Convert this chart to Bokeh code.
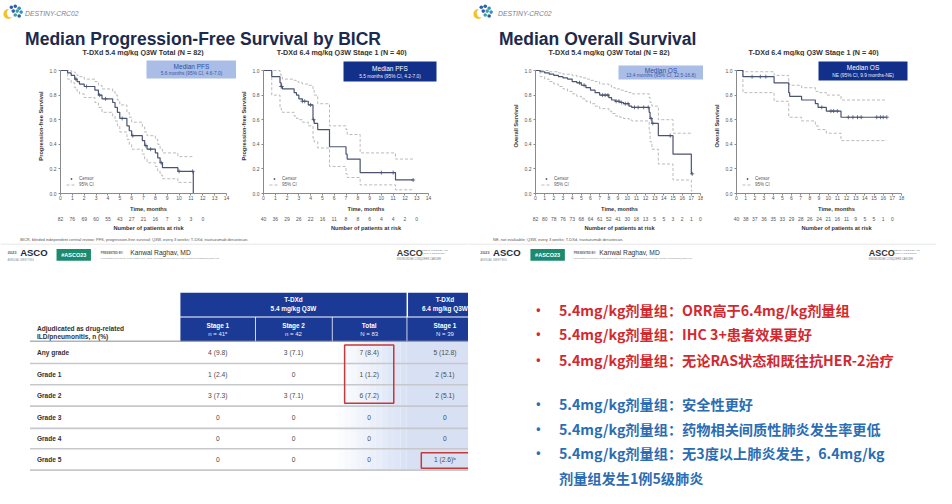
import numpy as np
from bokeh.plotting import figure
from bokeh.models import (Range1d, LinearAxis, FixedTicker, NumeralTickFormatter,
                          BoxAnnotation, Label, Legend, LegendItem)
from bokeh.layouts import row, column
from bokeh.embed import file_html
from bokeh.resources import INLINE
from bokeh.core.properties import value

# ------------------------------------------------------------------ data
PFS54_TIME = [0, 0.6, 0.9, 1.2, 1.4, 1.6, 2.0, 2.9, 3.2, 3.5, 4.4, 4.6, 4.8, 5.0, 5.6, 5.8, 6.0, 6.9, 7.1, 7.3, 8.0, 8.2, 8.4, 8.6, 9.9, 11.2]
PFS54_SURV = [1.0, 0.98, 0.96, 0.93, 0.91, 0.89, 0.87, 0.84, 0.80, 0.77, 0.74, 0.70, 0.66, 0.61, 0.55, 0.51, 0.47, 0.43, 0.39, 0.36, 0.33, 0.29, 0.25, 0.21, 0.18, 0.0]
PFS54_UPPER = [1.0, 1.0, 0.99, 0.98, 0.96, 0.95, 0.93, 0.91, 0.88, 0.85, 0.83, 0.80, 0.76, 0.72, 0.66, 0.62, 0.58, 0.54, 0.50, 0.47, 0.44, 0.40, 0.36, 0.33, 0.30, 0.30]
PFS54_LOWER = [1.0, 0.93, 0.90, 0.86, 0.83, 0.81, 0.78, 0.74, 0.70, 0.66, 0.63, 0.59, 0.55, 0.50, 0.44, 0.40, 0.36, 0.32, 0.28, 0.25, 0.22, 0.18, 0.15, 0.12, 0.09, 0.09]
PFS54_CENSOR = [1.3, 2.2, 3.3, 3.8, 5.2, 6.1, 7.2, 7.6, 8.5, 10.0, 11.15]
PFS54_RISK = [82, 76, 69, 60, 55, 43, 27, 21, 16, 7, 3, 3, 0]

PFS64_TIME = [0, 0.7, 1.4, 1.5, 1.6, 2.6, 2.8, 3.0, 3.3, 3.8, 4.2, 4.3, 4.6, 5.6, 7.0, 7.1, 8.2, 11.2, 12.7]
PFS64_SURV = [1.0, 0.95, 0.90, 0.87, 0.85, 0.82, 0.80, 0.77, 0.75, 0.72, 0.60, 0.57, 0.52, 0.38, 0.32, 0.28, 0.17, 0.11, 0.11]
PFS64_UPPER = [1.0, 1.0, 0.97, 0.95, 0.93, 0.92, 0.91, 0.90, 0.89, 0.88, 0.84, 0.80, 0.73, 0.55, 0.52, 0.48, 0.33, 0.28, 0.28]
PFS64_LOWER = [1.0, 0.80, 0.70, 0.68, 0.66, 0.63, 0.61, 0.60, 0.58, 0.55, 0.45, 0.42, 0.37, 0.22, 0.16, 0.13, 0.07, 0.03, 0.03]
PFS64_CENSOR = [1.5, 1.55, 3.3, 3.5, 4.0, 4.25, 10.0, 11.0, 12.7]
PFS64_RISK = [40, 36, 29, 26, 22, 16, 11, 8, 8, 6, 4, 4, 2, 0]

OS54_TIME = [0, 0.5, 1.0, 1.5, 2.0, 2.5, 3.0, 3.5, 4.0, 4.5, 5.0, 5.5, 6.0, 6.5, 7.0, 8.0, 8.3, 8.7, 9.2, 9.6, 10.2, 10.5, 12.4, 12.5, 12.7, 13.4, 15.0, 17.0, 17.1]
OS54_SURV = [1.0, 0.99, 0.98, 0.97, 0.96, 0.95, 0.94, 0.93, 0.91, 0.90, 0.88, 0.86, 0.84, 0.82, 0.80, 0.78, 0.76, 0.75, 0.74, 0.73, 0.71, 0.70, 0.66, 0.61, 0.57, 0.47, 0.32, 0.16, 0.16]
OS54_UPPER = [1.0, 1.0, 1.0, 0.99, 0.99, 0.98, 0.97, 0.97, 0.96, 0.95, 0.94, 0.93, 0.92, 0.91, 0.89, 0.88, 0.86, 0.85, 0.84, 0.83, 0.82, 0.81, 0.78, 0.74, 0.71, 0.60, 0.49, 0.49, 0.49]
OS54_LOWER = [1.0, 0.95, 0.93, 0.91, 0.89, 0.87, 0.85, 0.83, 0.81, 0.79, 0.77, 0.75, 0.73, 0.71, 0.69, 0.67, 0.65, 0.63, 0.62, 0.61, 0.60, 0.59, 0.50, 0.42, 0.36, 0.24, 0.11, 0.02, 0.02]
OS54_CENSOR = [4.8, 5.3, 7.3, 7.6, 7.9, 8.8, 9.1, 9.4, 9.8, 10.1, 10.8, 11.2, 11.8, 12.3, 12.6, 12.8, 14.7, 17.1]
OS54_RISK = [82, 80, 78, 76, 73, 68, 64, 61, 52, 41, 30, 18, 13, 5, 5, 3, 2, 1, 0]

OS64_TIME = [0, 0.7, 4.1, 5.7, 5.8, 7.1, 8.6, 8.9, 9.8, 11.4, 16.4]
OS64_SURV = [1.0, 0.95, 0.90, 0.82, 0.79, 0.76, 0.73, 0.70, 0.67, 0.62, 0.62]
OS64_UPPER = [1.0, 0.99, 0.96, 0.89, 0.88, 0.86, 0.83, 0.82, 0.80, 0.76, 0.76]
OS64_LOWER = [1.0, 0.82, 0.75, 0.63, 0.62, 0.59, 0.55, 0.52, 0.49, 0.43, 0.43]
OS64_CENSOR = [1.7, 2.6, 3.2, 9.3, 10.3, 10.6, 11.0, 12.2, 12.7, 13.2, 13.6, 15.3, 15.7, 16.0, 16.4]
OS64_RISK = [40, 38, 37, 36, 35, 33, 29, 28, 26, 24, 21, 16, 11, 9, 5, 5, 1, 0]

SLIDE_TITLES = ["Median Progression-Free Survival by BICR", "Median Overall Survival"]
PANEL_TITLES = ["T-DXd 5.4 mg/kg Q3W Total (N = 82)", "T-DXd 6.4 mg/kg Q3W Stage 1 (N = 40)",
                "T-DXd 5.4 mg/kg Q3W Total (N = 82)", "T-DXd 6.4 mg/kg Q3W Stage 1 (N = 40)"]
MEDIAN_TITLES = ["Median PFS", "Median PFS", "Median OS", "Median OS"]
MEDIAN_TEXTS = ["5.6 months (95% CI, 4.6-7.0)", "5.5 months (95% CI, 4.2-7.0)",
                "13.4 months (95% CI, 12.5-16.8)", "NE (95% CI, 9.9 months-NE)"]
Y_LABELS = ["Progression-free Survival", "Progression-free Survival", "Overall Survival", "Overall Survival"]
FOOTNOTES = ["BICR, blinded independent central review; PFS, progression-free survival; Q3W, every 3 weeks; T-DXd, trastuzumab deruxtecan.",
             "NE, not evaluable; Q3W, every 3 weeks; T-DXd, trastuzumab deruxtecan."]

TABLE_GROUPS = [("T-DXd", "5.4 mg/kg Q3W"), ("T-DXd", "6.4 mg/kg Q3W")]
TABLE_COLS = [("Stage 1", "n = 41ᵃ"), ("Stage 2", "n = 42"), ("Total", "N = 83"), ("Stage 1", "N = 39")]
TABLE_STUB = ("Adjudicated as drug-related", "ILD/pneumonitis, n (%)")
TABLE_ROWS = ["Any grade", "Grade 1", "Grade 2", "Grade 3", "Grade 4", "Grade 5"]
TABLE_VALUES = [
    ["4 (9.8)", "3 (7.1)", "7 (8.4)", "5 (12.8)"],
    ["1 (2.4)", "0", "1 (1.2)", "2 (5.1)"],
    ["3 (7.3)", "3 (7.1)", "6 (7.2)", "2 (5.1)"],
    ["0", "0", "0", "0"],
    ["0", "0", "0", "0"],
    ["0", "0", "0", "1 (2.6)ᵇ"],
]

BULLETS_RED = ["5.4mg/kg剂量组：ORR高于6.4mg/kg剂量组",
               "5.4mg/kg剂量组：IHC 3+患者效果更好",
               "5.4mg/kg剂量组：无论RAS状态和既往抗HER-2治疗"]
BULLETS_BLUE = ["5.4mg/kg剂量组：安全性更好",
                "5.4mg/kg剂量组：药物相关间质性肺炎发生率更低",
                "5.4mg/kg剂量组：无3度以上肺炎发生，6.4mg/kg"]
BULLET_CONT = "剂量组发生1例5级肺炎"

# ------------------------------------------------------------------ layout helpers
SANS = "Liberation Sans"
CJK = "Noto Sans CJK SC"
REF_W, REF_H = 952, 504
PAGE_W, PAGE_H = 936, 488
SX, SY = PAGE_W / REF_W, PAGE_H / REF_H
CURVE = "#4a5470"
CI_COL = "#a9a9a9"
NAVY = "#1a3a96"


def px(v):
    return int(round(v * SX))


def py(v):
    return int(round(v * SY))


def canvas(x0, x1, y0, y1):
    p = figure(width=px(x1) - px(x0), height=py(y1) - py(y0),
               x_range=Range1d(x0, x1), y_range=Range1d(y1, y0),
               x_axis_type=None, y_axis_type=None, toolbar_location=None,
               output_backend="svg", min_border=0, outline_line_color=None,
               background_fill_color="white", border_fill_color="white", title=None)
    return p


def text(p, x, y, s, size, color="#333333", style="normal", align="left",
         baseline="middle", font=SANS):
    p.text(x=[x], y=[y], text=[s], text_font=value(font),
           text_font_size=value(f"{size}px"), text_color=color,
           text_font_style=style, text_align=align, text_baseline=baseline)


def logo(p, ox):
    p.scatter(x=[ox + 8], y=[14], size=10, marker="circle", fill_color="#f2c233", line_color=None)
    p.scatter(x=[ox + 11], y=[13], size=9, marker="circle", fill_color="white", line_color=None)
    p.scatter(x=[ox + 11, ox + 15, ox + 19, ox + 13, ox + 17, ox + 21, ox + 15, ox + 19],
              y=[7, 6, 8, 11, 11, 12, 15, 16], size=3.6, marker="circle",
              fill_color=["#2d5ea8", "#2d5ea8", "#3b8fc0", "#2d5ea8", "#3aa0a0", "#3b8fc0", "#3aa0a0", "#2d5ea8"],
              line_color=None)


# ------------------------------------------------------------------ KM panels
Y_FIG_TOP, Y_FIG_BOT = 58, 241
Y_FRAME_TOP, Y_ONE, Y_ZERO = 60, 72, 199


def km_plot(x0, x1, frame_l, frame_r, xmax, t, s, up, lo, censor, risk, ylabel,
            box, box_fill, title_color, sub_color, mtitle, mtext):
    width = px(x1) - px(x0)
    height = py(Y_FIG_BOT) - py(Y_FIG_TOP)
    mbl = px(frame_l) - px(x0)
    mbt = py(Y_FRAME_TOP) - py(Y_FIG_TOP)
    mbb = py(Y_FIG_BOT) - py(Y_ZERO)
    axis_len = px(frame_r) - px(frame_l)
    x_end = xmax * (width - mbl) / axis_len
    y_end = (py(Y_ZERO) - py(Y_FRAME_TOP)) / (py(Y_ZERO) - py(Y_ONE))
    p = figure(width=width, height=height, x_range=Range1d(0, x_end), y_range=Range1d(0, y_end),
               toolbar_location=None, output_backend="svg", title=None,
               min_border_left=mbl, min_border_right=0, min_border_top=mbt, min_border_bottom=mbb,
               outline_line_color=None, background_fill_color="white", border_fill_color="white")
    p.grid.visible = False

    xa = p.xaxis[0]
    xa.ticker = FixedTicker(ticks=list(range(xmax + 1)))
    xa.bounds = (0, xmax)
    xa.axis_label = "Time, months"
    ya = p.yaxis[0]
    ya.ticker = FixedTicker(ticks=[0, 0.2, 0.4, 0.6, 0.8, 1.0])
    ya.formatter = NumeralTickFormatter(format="0.0")
    ya.bounds = (0, 1)
    ya.axis_label = ylabel
    for ax in (xa, ya):
        ax.axis_line_color = "#8a8a8a"
        ax.major_tick_line_color = "#8a8a8a"
        ax.minor_tick_line_color = None
        ax.major_tick_out = 2
        ax.major_tick_in = 0
        ax.minor_tick_out = 0
        ax.minor_tick_in = 0
        ax.major_label_text_font = SANS
        ax.major_label_text_font_size = "5px"
        ax.major_label_text_color = "#555555"
        ax.axis_label_text_font = SANS
        ax.axis_label_text_font_style = "bold"
        ax.axis_label_text_font_size = "5.7px"
        ax.axis_label_text_color = "#333333"
        ax.axis_label_standoff = 3
    xa.major_label_standoff = 0
    ya.major_label_standoff = 2

    risk_axis = LinearAxis(ticker=FixedTicker(ticks=list(range(len(risk)))),
                           major_label_overrides={i: str(v) for i, v in enumerate(risk)},
                           axis_line_color=None, major_tick_line_color=None,
                           minor_tick_line_color=None, major_tick_out=0, major_tick_in=0,
                           minor_tick_out=0, minor_tick_in=0, major_label_standoff=2,
                           major_label_text_font=SANS, major_label_text_font_size="5px",
                           major_label_text_color="#555555",
                           axis_label="Number of patients at risk", axis_label_standoff=1,
                           axis_label_text_font=SANS, axis_label_text_font_style="bold",
                           axis_label_text_font_size="5.7px", axis_label_text_color="#333333")
    p.add_layout(risk_axis, "below")

    r_up = p.step(x=t, y=up, mode="after", line_color=CI_COL, line_width=0.8, line_dash="3 2")
    p.step(x=t, y=lo, mode="after", line_color=CI_COL, line_width=0.8, line_dash="3 2")
    p.step(x=t, y=s, mode="after", line_color=CURVE, line_width=1.2)
    idx = np.searchsorted(np.array(t), np.array(censor), side="right") - 1
    cy = [s[i] for i in idx]
    r_c = p.scatter(x=censor, y=cy, marker="cross", size=4, line_color=CURVE, line_width=0.8)

    leg = Legend(items=[LegendItem(label="Censor", renderers=[r_c]),
                        LegendItem(label="95% CI", renderers=[r_up])],
                 location="bottom_left", label_text_font=SANS, label_text_font_size="4.5px",
                 label_text_color="#555555", glyph_width=10, glyph_height=5, label_height=5,
                 label_standoff=3, spacing=1, padding=1, margin=5,
                 background_fill_alpha=0, border_line_alpha=0)
    p.add_layout(leg)

    def dx(v):
        return (px(v) - px(frame_l)) / axis_len * xmax

    def dy(v):
        return (py(Y_ZERO) - py(v)) / (py(Y_ZERO) - py(Y_ONE))

    bx0, bx1, by0, by1 = box
    p.add_layout(BoxAnnotation(left=dx(bx0), right=dx(bx1), top=dy(by0), bottom=dy(by1),
                               fill_color=box_fill, fill_alpha=1.0, line_color=None))
    cx = (dx(bx0) + dx(bx1)) / 2
    p.add_layout(Label(x=cx, y=dy(by0 + 0.33 * (by1 - by0)), text=mtitle, text_align="center",
                       text_baseline="middle", text_font=SANS, text_font_size="6.5px",
                       text_color=title_color))
    p.add_layout(Label(x=cx, y=dy(by0 + 0.72 * (by1 - by0)), text=mtext, text_align="center",
                       text_baseline="middle", text_font=SANS, text_font_size="4.8px",
                       text_color=sub_color))
    return p


LIGHT_BOX, DARK_BOX = "#a9bde6", "#12308a"
km1 = km_plot(0, 240, 61, 230, 14, PFS54_TIME, PFS54_SURV, PFS54_UPPER, PFS54_LOWER, PFS54_CENSOR,
              PFS54_RISK, Y_LABELS[0], (148, 240, 62, 81), LIGHT_BOX, "#2f4f9e", "#3a57a0",
              MEDIAN_TITLES[0], MEDIAN_TEXTS[0])
km2 = km_plot(240, 476, 268, 435, 14, PFS64_TIME, PFS64_SURV, PFS64_UPPER, PFS64_LOWER, PFS64_CENSOR,
              PFS64_RISK, Y_LABELS[1], (349, 443, 63, 84), DARK_BOX, "white", "#e8ecf8",
              MEDIAN_TITLES[1], MEDIAN_TEXTS[1])
km3 = km_plot(476, 715, 544, 712, 18, OS54_TIME, OS54_SURV, OS54_UPPER, OS54_LOWER, OS54_CENSOR,
              OS54_RISK, Y_LABELS[2], (629, 715, 67, 82), LIGHT_BOX, "#2f4f9e", "#3a57a0",
              MEDIAN_TITLES[2], MEDIAN_TEXTS[2])
km4 = km_plot(715, 952, 749, 916, 18, OS64_TIME, OS64_SURV, OS64_UPPER, OS64_LOWER, OS64_CENSOR,
              OS64_RISK, Y_LABELS[3], (832, 922, 63, 83), DARK_BOX, "white", "#e8ecf8",
              MEDIAN_TITLES[3], MEDIAN_TEXTS[3])

# ------------------------------------------------------------------ headers
hL = canvas(0, 476, 0, 58)
logo(hL, 0)
text(hL, 25, 13, "DESTINY-CRC02", 6.8, "#7b8090", "italic")
text(hL, 25, 40, SLIDE_TITLES[0], 17.5, "#1c2a4e", "bold", baseline="alphabetic")
text(hL, 145, 54, PANEL_TITLES[0], 7.2, "#333333", "bold", align="center")
text(hL, 347, 54, PANEL_TITLES[1], 7.2, "#333333", "bold", align="center")

hR = canvas(476, 952, 0, 58)
logo(hR, 478)
text(hR, 506, 13, "DESTINY-CRC02", 6.8, "#7b8090", "italic")
text(hR, 507, 40, SLIDE_TITLES[1], 17.5, "#1c2a4e", "bold", baseline="alphabetic")
text(hR, 619, 54, PANEL_TITLES[2], 7.2, "#333333", "bold", align="center")
text(hR, 827, 54, PANEL_TITLES[3], 7.2, "#333333", "bold", align="center")


# ------------------------------------------------------------------ footers
def footer(x0, note, note_x, asco_x, green_x, pres_x, name_x, right_x):
    f = canvas(x0, x0 + 476, 241, 276)
    text(f, note_x, 247, note, 4.0, "#555555")
    f.segment(x0=[x0], x1=[x0 + 476], y0=[252], y1=[252], line_color="#e6e6e6", line_width=1)
    text(f, asco_x, 261, "2023", 4.2, "#5a6a7a", "bold")
    text(f, asco_x + 13, 261, "ASCO", 9.5, "#1e2a3a", "bold")
    text(f, asco_x, 268, "ANNUAL MEETING", 3.0, "#8a9aaa")
    f.quad(left=[green_x], right=[green_x + 35], top=[257], bottom=[269],
           fill_color="#1c8a6c", line_color=None)
    text(f, green_x + 17.5, 263, "#ASCO23", 5.5, "white", "bold", align="center")
    text(f, pres_x, 261, "PRESENTED BY:", 2.8, "#666666", "bold")
    text(f, name_x, 261, "Kanwal Raghav, MD", 6.7, "#333333")
    text(f, pres_x, 267, "Presentation is property of the author and ASCO. Permission required for reuse; contact permissions@asco.org",
         2.4, "#888888")
    text(f, right_x, 261, "ASCO", 9.0, "#333333", "bold")
    text(f, right_x + 24, 258, "AMERICAN SOCIETY OF", 2.4, "#777777")
    text(f, right_x + 24, 261, "CLINICAL ONCOLOGY", 2.4, "#777777")
    text(f, right_x, 268, "KNOWLEDGE CONQUERS CANCER", 2.6, "#777777")
    return f


fL = footer(0, FOOTNOTES[0], 20, 7, 57, 102, 132, 403)
fR = footer(476, FOOTNOTES[1], 501, 488, 539, 583, 609, 883)

# ------------------------------------------------------------------ table
COL_EDGES = [183, 259, 337, 413, 491]
ROW_EDGES = [352, 375, 397, 419, 442, 463, 485]
tf = canvas(0, 476, 276, 504)

n_sl = 12
edges = np.linspace(COL_EDGES[2], COL_EDGES[3], n_sl + 1)
shades = ["#%02x%02x%02x" % (int(255 - (255 - 218) * k / (n_sl - 1)),
                            int(255 - (255 - 227) * k / (n_sl - 1)),
                            int(255 - (255 - 246) * k / (n_sl - 1))) for k in range(n_sl)]
tf.quad(left=edges[:-1], right=edges[1:], top=[ROW_EDGES[0]] * n_sl, bottom=[ROW_EDGES[-1]] * n_sl,
        fill_color=shades, line_color=None)
tf.quad(left=[COL_EDGES[3]], right=[COL_EDGES[4]], top=[ROW_EDGES[0]], bottom=[ROW_EDGES[-1]],
        fill_color="#d8e1f4", line_color=None)

tf.quad(left=[COL_EDGES[0], COL_EDGES[3] + 1.5], right=[COL_EDGES[3], COL_EDGES[4]],
        top=[302, 302], bottom=[326.5, 326.5], fill_color=NAVY, line_color=None)
tf.quad(left=[COL_EDGES[i] + (0.8 if i else 0) for i in range(4)], right=COL_EDGES[1:],
        top=[327.5] * 4, bottom=[352] * 4, fill_color=NAVY, line_color=None)
group_cx = [(COL_EDGES[0] + COL_EDGES[3]) / 2, (COL_EDGES[3] + COL_EDGES[4]) / 2]
for cxg, (g1, g2) in zip(group_cx, TABLE_GROUPS):
    text(tf, cxg, 309.5, g1, 6.4, "white", "bold", align="center")
    text(tf, cxg, 318.5, g2, 6.4, "white", "bold", align="center")
col_cx = [(COL_EDGES[i] + COL_EDGES[i + 1]) / 2 for i in range(4)]
for cxc, (c1, c2) in zip(col_cx, TABLE_COLS):
    text(tf, cxc, 335.5, c1, 6.4, "white", "bold", align="center")
    text(tf, cxc, 344.5, c2, 6.0, "#e8ecf8", align="center")
text(tf, 37, 338.5, TABLE_STUB[0], 6.6, "#333333", "bold")
text(tf, 37, 347, TABLE_STUB[1], 6.6, "#333333", "bold")

tf.segment(x0=[30], x1=[COL_EDGES[4]], y0=[ROW_EDGES[0]], y1=[ROW_EDGES[0]], line_color="#8c8c8c", line_width=1)
tf.segment(x0=[30] * 6, x1=[COL_EDGES[4]] * 6, y0=ROW_EDGES[1:], y1=ROW_EDGES[1:],
           line_color="#c6c8cc", line_width=1.6)
for r, (lab, vals) in enumerate(zip(TABLE_ROWS, TABLE_VALUES)):
    yc = (ROW_EDGES[r] + ROW_EDGES[r + 1]) / 2
    text(tf, 37, yc, lab, 6.6, "#333333", "bold")
    for c, v in enumerate(vals):
        text(tf, col_cx[c], yc, v, 6.7, "#4a4a4a", align="center")

tf.quad(left=[350, 428], right=[400, 478], top=[356, 467], bottom=[416, 483],
        fill_color=None, line_color="#c23a3a", line_width=1.5)

# ------------------------------------------------------------------ bullets
bf = canvas(476, 952, 276, 504)
RED, BLUE = "#d2292f", "#2b6db3"
bullet_y_red = [320, 345, 371]
bullet_y_blue = [417, 443, 467]
for yb, s in zip(bullet_y_red, BULLETS_RED):
    text(bf, 547, yb, "•", 12, RED, "bold", align="center", font=SANS)
    text(bf, 568, yb, s, 14.2, RED, "bold", font=CJK)
for yb, s in zip(bullet_y_blue, BULLETS_BLUE):
    text(bf, 547, yb, "•", 12, BLUE, "bold", align="center", font=SANS)
    text(bf, 568, yb, s, 14.2, BLUE, "bold", font=CJK)
text(bf, 568, 493, BULLET_CONT, 14.2, BLUE, "bold", font=CJK)

# ------------------------------------------------------------------ assemble
top_left = column(hL, row(km1, km2), fL)
top_right = column(hR, row(km3, km4), fR)
layout = column(row(top_left, top_right), row(tf, bf))

open("out.html", "w").write(file_html(layout, INLINE))
